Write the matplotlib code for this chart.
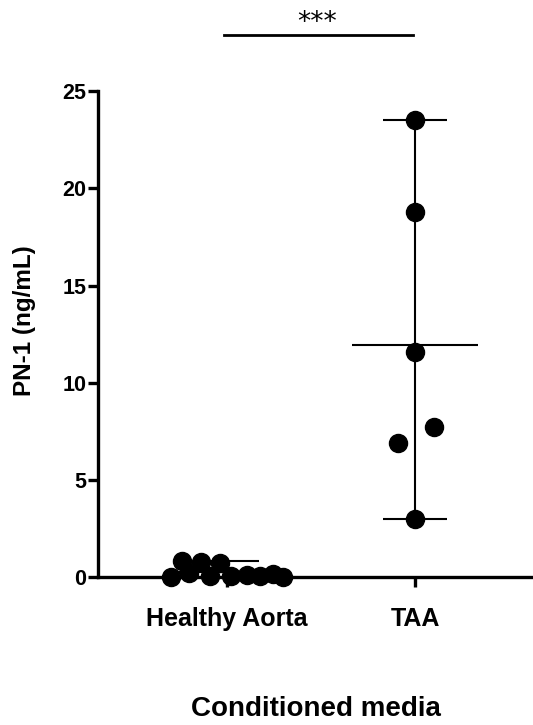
import matplotlib
matplotlib.use('Agg')
import matplotlib.pyplot as plt
import numpy as np

plt.rcParams['font.family'] = ['Liberation Sans', 'DejaVu Sans']

# data
groups = ['Healthy Aorta', 'TAA']
healthy = [0.0, 0.2, 0.85, 0.8, 0.05, 0.7, 0.05, 0.1, 0.05, 0.15, 0.0]
healthy_x = [-0.30, -0.20, -0.24, -0.14, -0.09, -0.035, 0.02, 0.105, 0.175, 0.245, 0.30]
taa = [23.5, 18.8, 11.6, 6.9, 7.7, 3.0]
taa_x = [0.0, 0.0, 0.0, -0.09, 0.10, 0.0]
yticks = [0, 5, 10, 15, 20, 25]

fig = plt.figure(figsize=(5.33, 7.25), dpi=100)
ax = fig.add_axes([0.184, 0.204, 0.816, 0.6703])

for i, (vals, offs) in enumerate([(healthy, healthy_x), (taa, taa_x)]):
    vals = np.array(vals)
    ax.vlines(i, vals.min(), vals.max(), color='black', lw=1.5, zorder=2)
    ax.hlines([vals.min(), vals.max()], i - 0.17, i + 0.17, color='black', lw=1.5, zorder=2)
    ax.hlines(vals.mean(), i - 0.335, i + 0.335, color='black', lw=1.5, zorder=2)
    ax.plot(i + np.array(offs), vals, 'o', color='black', ms=13, zorder=3, clip_on=False)

ax.set_xlim(-0.686, 1.628)
ax.set_ylim(0, 25)
ax.set_yticks(yticks)
ax.set_xticks([0, 1])
ax.set_xticklabels(groups, fontsize=18, fontweight='bold')
ax.set_yticklabels([str(t) for t in yticks], fontsize=15.5, fontweight='bold')

for s in ['top', 'right']:
    ax.spines[s].set_visible(False)
for s in ['left', 'bottom']:
    ax.spines[s].set_linewidth(2.4)
ax.tick_params(axis='y', length=7.5, width=2.4, pad=1)
ax.tick_params(axis='x', length=7.5, width=2.4, pad=14)

ax.set_ylabel('PN-1 (ng/mL)', fontsize=17.5, fontweight='bold', va='center')
ax.yaxis.set_label_coords(-0.17, 0.527)
ax.set_xlabel('Conditioned media', fontsize=20, fontweight='bold', labelpad=47)

# significance bar
ax.plot([-0.015, 0.99], [27.9, 27.9], color='black', lw=2, clip_on=False)
ax.text(0.48, 28.15, '***', ha='center', va='baseline', fontsize=19,
        family='DejaVu Sans')

fig.savefig('out.png', dpi=100)
